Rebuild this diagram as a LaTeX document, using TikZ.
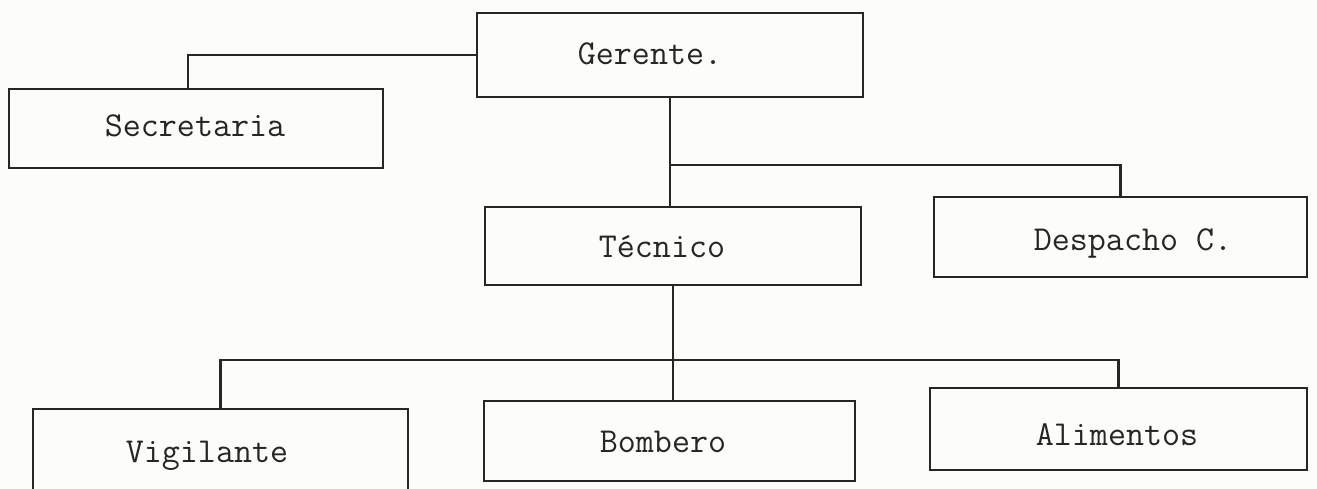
\documentclass[tikz,border=0pt]{standalone}
\usepackage{fontspec}
\definecolor{ink}{HTML}{262626}
\definecolor{paper}{HTML}{FCFCF8}
\begin{document}
\begin{tikzpicture}[x=1pt,y=-1pt,
  box/.style={draw=ink, line width=2.3pt, rectangle, inner sep=0pt, outer sep=0pt},
  lbl/.style={anchor=base, inner sep=0pt, text=ink, font=\ttfamily\fontsize{35}{40}\selectfont},
  conn/.style={draw=ink, line width=2.3pt}]
\fill[paper] (0,0) rectangle (1317,489);
\useasboundingbox (0,0) rectangle (1317,489);
% boxes
\node[box, minimum width=386pt, minimum height=84pt] (ger) at (670,55) {};
\node[box, minimum width=374pt, minimum height=79pt] (sec) at (196,128.5) {};
\node[box, minimum width=376pt, minimum height=78pt] (tec) at (673,246) {};
\node[box, minimum width=373pt, minimum height=80pt] (des) at (1120.5,237) {};
\node[box, minimum width=375pt, minimum height=92pt] (vig) at (220.5,455) {};
\node[box, minimum width=371pt, minimum height=80pt] (bom) at (669.5,441) {};
\node[box, minimum width=377pt, minimum height=82pt] (ali) at (1118.5,429) {};
% texts
\node[lbl] (gerT) at (650,65) {Gerente.};
\node[lbl] (secT) at (195,137) {Secretaria};
\node[lbl] (tecT) at (662,257) {Técnico};
\node[lbl] (desT) at (1133,251) {Despacho C.};
\node[lbl] (vigT) at (207,462) {Vigilante};
\node[lbl] (bomT) at (663,452) {Bombero};
\node[lbl] (aliT) at (1117,445) {Alimentos};
% junctions
\coordinate (j1) at (670,165);
\coordinate (j2) at (672,360);
% connectors
\draw[conn] (ger.west) -| ([xshift=-8pt]sec.north);
\draw[conn] (ger.south) -- (ger.south |- tec.north);
\draw[conn] (j1) -| (des.north);
\draw[conn] (tec.south) -- (tec.south |- bom.north);
\draw[conn] (vig.north) |- (j2) -| (ali.north);
\end{tikzpicture}
\end{document}
